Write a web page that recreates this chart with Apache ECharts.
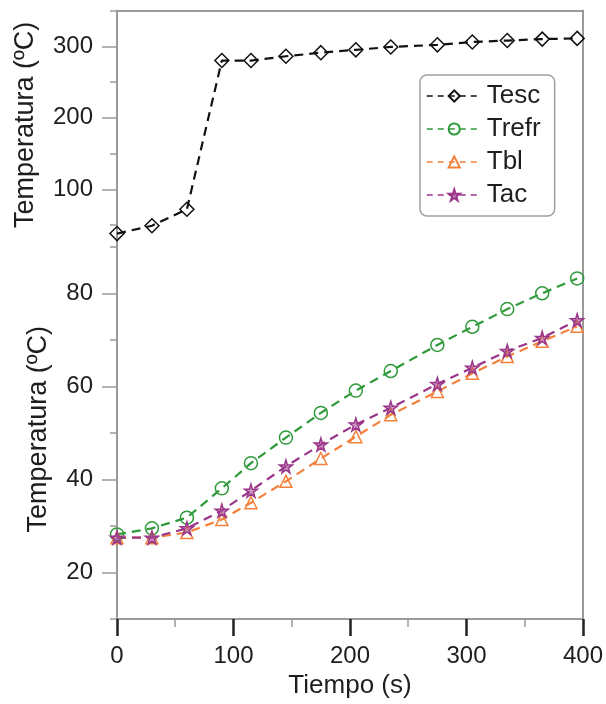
<!DOCTYPE html>
<html>
<head>
<meta charset="utf-8">
<script src="https://cdn.jsdelivr.net/npm/echarts@6/dist/echarts.min.js"></script>
<style>
  html, body { margin: 0; padding: 0; background: #fff; }
  #chart { width: 606px; height: 704px; }
</style>
</head>
<body>
<div id="chart"></div>
<script>
// Sampling times (s)
const tiempo = [0, 30, 60, 90, 115, 145, 175, 205, 235, 275, 305, 335, 365, 395];

// Temperatures (ºC)
const tesc  = [38, 49, 72, 280, 280, 286, 291, 295, 299, 302, 306, 308, 310, 311];
const trefr = [28.2, 29.5, 31.8, 38.1, 43.5, 49.0, 54.3, 59.1, 63.3, 68.9, 72.8, 76.6, 80.0, 83.2];
const tbl   = [27.5, 27.5, 28.6, 31.4, 35.0, 39.6, 44.5, 49.2, 53.9, 58.9, 62.8, 66.4, 69.7, 72.9];
const tac   = [27.5, 27.5, 29.5, 33.3, 37.6, 42.8, 47.5, 51.8, 55.4, 60.5, 64.0, 67.6, 70.4, 74.2];

// Tick values
const xTicks = [0, 100, 200, 300, 400];
const upperMajor = [100, 200, 300];
const upperMinor = [50, 150, 250, 350];
const lowerMajor = [20, 40, 60, 80];
const lowerMinor = [10, 30, 50, 70, 90];

const FONT = 'Liberation Sans, Arial, Helvetica, sans-serif';
const AXIS_GRAY = '#9a9a9a';
const TEXT = '#1e1e1e';
const DASH = [9, 6];

const STAR = 'path://M50,0 L61,35 L98,35 L68,57 L79,91 L50,70 L21,91 L32,57 L2,35 L39,35 Z';
const DIAMOND = 'path://M50,0 L100,50 L50,100 L0,50 Z';

const pairs = (ys) => tiempo.map((t, i) => [t, ys[i]]);

function lineSeries(name, ys, color, symbol, size, fill, xi, yi) {
  return {
    name: name,
    type: 'line',
    xAxisIndex: xi,
    yAxisIndex: yi,
    data: pairs(ys),
    symbol: symbol,
    symbolSize: size,
    showAllSymbol: true,
    lineStyle: { color: color, width: 2.2, type: DASH },
    itemStyle: { color: fill, borderColor: color, borderWidth: 1.5 },
    emphasis: { disabled: true },
    z: 3
  };
}

const lineOnly = (gridIndex, position) => ({
  type: 'value',
  gridIndex: gridIndex,
  position: position,
  min: 0, max: 1,
  axisLine: { show: true, onZero: false, lineStyle: { color: AXIS_GRAY, width: 2 } },
  axisTick: { show: false },
  axisLabel: { show: false },
  splitLine: { show: false }
});

const upperMin = 30, upperMax = 350;
const lowerMin = 10, lowerMax = 91.6;

const option = {
  backgroundColor: '#fff',
  animation: false,
  textStyle: { fontFamily: FONT },
  grid: [
    { left: 117, right: 23, top: 10.5, height: 228.8 },
    { left: 117, right: 23, top: 239.3, bottom: 81 }
  ],
  legend: {
    orient: 'vertical',
    left: 420,
    top: 75,
    data: ['Tesc', 'Trefr', 'Tbl', 'Tac'],
    itemWidth: 55,
    itemHeight: 14,
    itemGap: 7,
    padding: [8, 14, 8, 6],
    borderColor: '#a0a0a0',
    borderWidth: 1.5,
    borderRadius: 7,
    backgroundColor: '#fff',
    lineStyle: { width: 1.5, type: [6, 5] },
    textStyle: { fontFamily: FONT, fontSize: 26, color: TEXT, lineHeight: 26 },
    selectedMode: false
  },
  xAxis: [
    // frame top of the upper panel
    {
      type: 'value', gridIndex: 0, position: 'top', min: 0, max: 400,
      axisLine: { show: true, onZero: false, lineStyle: { color: AXIS_GRAY, width: 2 } },
      axisTick: { show: false }, axisLabel: { show: false }, splitLine: { show: false }
    },
    // time axis
    {
      type: 'value', gridIndex: 1, position: 'bottom', min: 0, max: 400, interval: 100,
      name: 'Tiempo (s)', nameLocation: 'middle', nameGap: 52,
      nameTextStyle: { fontFamily: FONT, fontSize: 26, color: TEXT },
      axisLine: { show: true, onZero: false, lineStyle: { color: AXIS_GRAY, width: 2 } },
      axisTick: { show: true, length: 17, lineStyle: { color: '#222', width: 2.5 }, customValues: xTicks },
      minorTick: { show: true, splitNumber: 2, length: 8, lineStyle: { color: AXIS_GRAY, width: 1.5 } },
      axisLabel: { fontFamily: FONT, fontSize: 24, color: TEXT, margin: 25, customValues: xTicks },
      splitLine: { show: false }
    }
  ],
  yAxis: [
    // upper panel scale
    {
      type: 'value', gridIndex: 0, position: 'left', min: upperMin, max: upperMax,
      name: 'Temperatura (ºC)', nameLocation: 'middle', nameGap: 78,
      nameTextStyle: { fontFamily: FONT, fontSize: 27, color: TEXT },
      axisLine: { show: true, onZero: false, lineStyle: { color: AXIS_GRAY, width: 2 } },
      axisTick: { show: true, length: 15, lineStyle: { color: AXIS_GRAY, width: 1.5 }, customValues: upperMajor },
      axisLabel: { fontFamily: FONT, fontSize: 24, color: TEXT, margin: 24, customValues: upperMajor },
      splitLine: { show: false }
    },
    {
      type: 'value', gridIndex: 0, position: 'left', min: upperMin, max: upperMax,
      axisLine: { show: false },
      axisTick: { show: true, length: 7, lineStyle: { color: AXIS_GRAY, width: 1.5 }, customValues: upperMinor },
      axisLabel: { show: false },
      splitLine: { show: false }
    },
    lineOnly(0, 'right'),
    // lower panel scale
    {
      type: 'value', gridIndex: 1, position: 'left', min: lowerMin, max: lowerMax,
      name: 'Temperatura (ºC)', nameLocation: 'middle', nameGap: 65,
      nameTextStyle: { fontFamily: FONT, fontSize: 27, color: TEXT },
      axisLine: { show: true, onZero: false, lineStyle: { color: AXIS_GRAY, width: 2 } },
      axisTick: { show: true, length: 15, lineStyle: { color: AXIS_GRAY, width: 1.5 }, customValues: lowerMajor },
      axisLabel: { fontFamily: FONT, fontSize: 24, color: TEXT, margin: 24, customValues: lowerMajor },
      splitLine: { show: false }
    },
    {
      type: 'value', gridIndex: 1, position: 'left', min: lowerMin, max: lowerMax,
      axisLine: { show: false },
      axisTick: { show: true, length: 7, lineStyle: { color: AXIS_GRAY, width: 1.5 }, customValues: lowerMinor },
      axisLabel: { show: false },
      splitLine: { show: false }
    },
    lineOnly(1, 'right')
  ],
  series: [
    lineSeries('Tesc', tesc, '#111111', DIAMOND, 14, 'rgba(255,255,255,0)', 0, 0),
    lineSeries('Trefr', trefr, '#2f9a3a', 'circle', 13, 'rgba(255,255,255,0)', 1, 3),
    lineSeries('Tbl', tbl, '#f4813a', 'triangle', 12, 'rgba(255,255,255,0)', 1, 3),
    lineSeries('Tac', tac, '#9a3689', STAR, 13, 'rgba(170,70,150,0.55)', 1, 3)
  ]
};

const chart = echarts.init(document.getElementById('chart'), null, { renderer: 'canvas' });
chart.setOption(option);
</script>
</body>
</html>
